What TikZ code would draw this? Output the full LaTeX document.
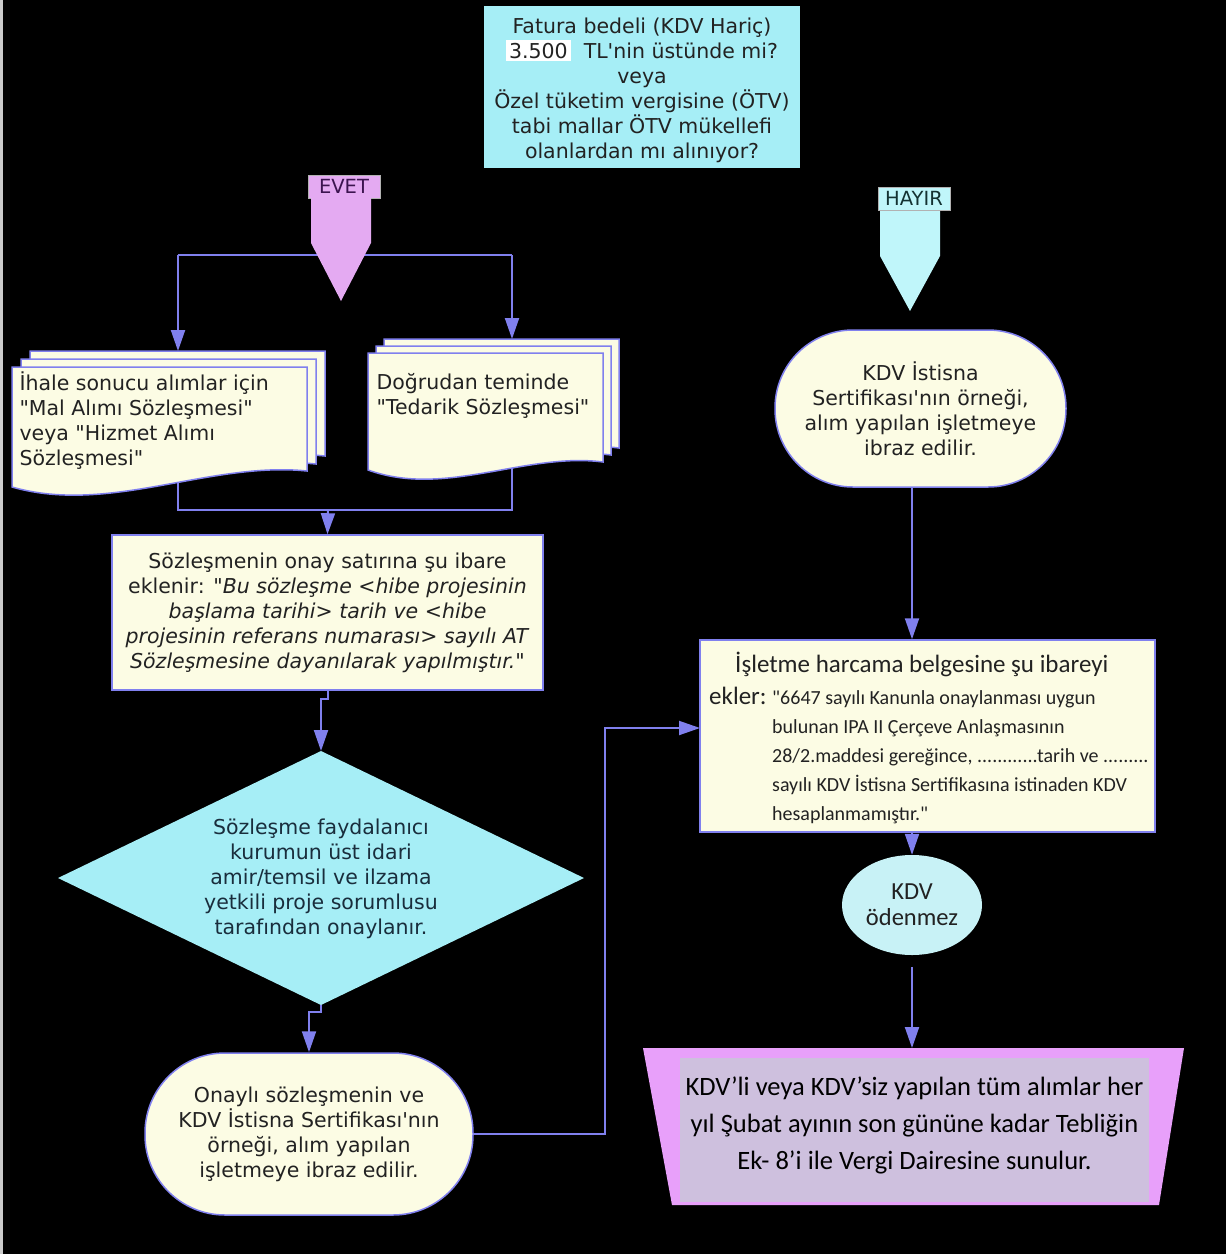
\documentclass[tikz,border=0pt]{standalone}
\usepackage{fontspec}
\setmainfont{DejaVu Sans}
\newfontfamily\calfont{Carlito}
\usetikzlibrary{arrows.meta,shapes.geometric,calc}
\definecolor{lnc}{RGB}{128,128,238}
\definecolor{cream}{RGB}{252,252,228}
\definecolor{cyanA}{RGB}{166,238,246}
\definecolor{cyanB}{RGB}{192,246,250}
\definecolor{pinkA}{RGB}{228,170,242}
\definecolor{pinkT}{RGB}{232,160,250}
\definecolor{lav}{RGB}{206,192,222}
\definecolor{txt}{RGB}{34,34,34}
\definecolor{ell}{RGB}{200,242,246}
\newcommand\dq{\textquotedbl}
\newcommand\sq{\textquotesingle}
\newcommand\docpg[5]{%
  \path[page] (#1,#2) -- ({#1+#3},#2) -- ({#1+#3},#5)
    .. controls ({#1+0.67*#3},{#5-10}) and ({#1+0.33*#3},{#4+28}) .. (#1,#4) -- cycle;}
\begin{document}
\begin{tikzpicture}[x=1pt,y=-1pt,
  conn/.style={draw=lnc, line width=2pt},
  arr/.style={conn, -{Triangle[width=14pt,length=21pt]}},
  vt/.style={font=\fontsize{20.5}{25}\selectfont, text=txt, align=center},
  creambox/.style={fill=cream, draw=lnc, line width=1.5pt, inner sep=0pt},
  page/.style={fill=cream, draw=lnc, line width=1.5pt},
  lbl/.style={minimum width=72pt, minimum height=23pt, inner sep=0pt, draw=gray!60, line width=0.8pt, font=\fontsize{19.5}{19.5}\selectfont}
]
\fill[black] (0,0) rectangle (1226,1254);
\useasboundingbox (0,0) rectangle (1226,1254);
\fill[gray!40] (0,0) rectangle (3,1254);

% ---------- question box
\node[fill=cyanA, minimum width=316pt, minimum height=162pt, inner sep=0pt] (q) at (642,87) {};
\node[vt] (qt) at (642,90) {Fatura bedeli (KDV Hariç)\\
  {\setlength\fboxsep{3pt}\colorbox{white}{3.500}}\ \ TL\sq nin üstünde mi?\\
  veya\\ Özel tüketim vergisine (ÖTV)\\ tabi mallar ÖTV mükellefi\\ olanlardan mı alınıyor?};

% ---------- coordinates for the EVET branch
\coordinate (evL) at (178,255);
\coordinate (evR) at (512,255);
\coordinate (docLtop) at (178,351);
\coordinate (docRtop) at (512,339);
\coordinate (jl) at (178,470);
\coordinate (jr) at (512,455);
\coordinate (jlb) at (178,510);
\coordinate (jrb) at (512,510);
\coordinate (jm) at (328,510);

% lines lying behind shapes
\draw[conn] (evL) -- (evR);
\draw[conn] (jl) -- (jlb) -- (jrb) -- (jr);

% ---------- EVET
\node[lbl, fill=pinkA, text={rgb,255:red,60;green,20;blue,80}] (evet) at (344,186.5) {EVET};
\fill[pinkA] (311,198) -- (371,198) -- (371,243) -- (341,301) -- (311,243) -- cycle;
\coordinate (evtip) at (341,301);

% ---------- HAYIR
\node[lbl, fill=cyanB, text={rgb,255:red,20;green,50;blue,50}] (hayir) at (914,198.5) {HAYIR};
\fill[cyanB] (880,211) -- (940,211) -- (940,256) -- (910,311) -- (880,256) -- cycle;
\coordinate (haytip) at (910,311);

% ---------- documents
\docpg{30}{351}{295}{472}{456}
\docpg{21}{359}{295}{480}{464}
\docpg{12}{367}{295}{487}{471}
\node[vt, align=left, anchor=west] (docLt) at (16,421) {İhale sonucu alımlar için\\ \dq Mal Alımı Sözleşmesi\dq\\ veya \dq Hizmet Alımı\\ Sözleşmesi\dq};
\docpg{384}{339}{235}{456}{448}
\docpg{376}{346}{235}{463}{455}
\docpg{368}{353}{235}{470}{462}
\node[vt, align=left, anchor=west] (docRt) at (373,396) {Doğrudan teminde\\ \dq Tedarik Sözleşmesi\dq};

\draw[arr] (evL) -- (docLtop);
\draw[arr] (evR) -- (docRtop);

% ---------- contract box
\node[creambox, vt, minimum width=431pt, minimum height=155pt] (sb) at (327.5,612.5)
 {Sözleşmenin onay satırına şu ibare\\
  eklenir: \textit{\dq Bu sözleşme <hibe projesinin}\\
  \textit{başlama tarihi> tarih ve <hibe}\\
  \textit{projesinin referans numarası> sayılı AT}\\
  \textit{Sözleşmesine dayanılarak yapılmıştır.\dq}};
\draw[arr] (jm) -- (sb.north);

% ---------- diamond
\fill[cyanA] (58,878) -- (321,751) -- (584,878) -- (321,1005) -- cycle;
\coordinate (dT) at (321,751);
\coordinate (dB) at (321,1005);
\node[vt, text={rgb,255:red,25;green,45;blue,60}] (dt) at (321,879) {Sözleşme faydalanıcı\\ kurumun üst idari\\ amir/temsil ve ilzama\\ yetkili proje sorumlusu\\ tarafından onaylanır.};
\draw[arr] (sb.south) -- ++(0,8) -| (dT);

% ---------- bottom-left terminal
\node[creambox, vt, rounded corners=80pt, minimum width=328pt, minimum height=162pt] (tl) at (309,1134)
 {Onaylı sözleşmenin ve\\ KDV İstisna Sertifikası\sq nın\\ örneği, alım yapılan\\ işletmeye ibraz edilir.};
\draw[arr] (dB) -- ++(0,7) -| (tl.north);

% ---------- right terminal
\node[creambox, vt, rounded corners=78pt, minimum width=291pt, minimum height=157pt] (tr) at (920.5,408.5)
 {KDV İstisna\\ Sertifikası\sq nın örneği,\\ alım yapılan işletmeye\\ ibraz edilir.};
\coordinate (colR) at (912,0);

% ---------- right box
\node[creambox, minimum width=455pt, minimum height=192pt] (rb) at (927.5,736) {};
\node[font=\calfont\fontsize{25}{25}\selectfont, text=txt, anchor=base west, inner sep=0pt] (rb1) at (735,672) {İşletme harcama belgesine şu ibareyi};
\node[font=\calfont\fontsize{25}{25}\selectfont, text=txt, anchor=base west, inner sep=0pt] (rb2) at (709,704) {ekler:};
\node[font=\calfont\fontsize{20}{29}\selectfont, text=txt, align=left, anchor=north west, inner sep=0pt] (rb3) at (772,690)
 {\dq 6647 sayılı Kanunla onaylanması uygun\\
  bulunan IPA II Çerçeve Anlaşmasının\\
  28/2.maddesi gereğince, ............tarih ve .........\\
  sayılı KDV İstisna Sertifikasına istinaden KDV\\
  hesaplanmamıştır.\dq};
\coordinate (rbin) at (700,728);
\draw[arr] (tl.east) -- ++(131,0) |- (rbin);
\draw[arr] (tr.south -| colR) -- (rb.north -| colR);

% ---------- ellipse
\node[ellipse, fill=ell, minimum width=140pt, minimum height=100pt, inner sep=0pt, align=center,
  font=\calfont\fontsize{24.5}{26}\selectfont, text=txt] (kdv) at (912,905) {KDV\\ödenmez};
\draw[arr] (rb.south -| colR) -- (kdv.north);

% ---------- trapezoid
\fill[pinkT] (643,1048) -- (1184,1048) -- (1159,1205) -- (672,1205) -- cycle;
\fill[lav] (680,1058) rectangle (1149,1202);
\coordinate (trapT) at (912,1048);
\node[font=\calfont\fontsize{26.5}{37}\selectfont, align=center, text=black] (trt) at (914.5,1125)
 {KDV’li veya KDV’siz yapılan tüm alımlar her\\ yıl Şubat ayının son gününe kadar Tebliğin\\ Ek- 8’i ile Vergi Dairesine sunulur.};
\draw[arr, shorten <=12pt] (kdv.south) -- (trapT);
\end{tikzpicture}
\end{document}
